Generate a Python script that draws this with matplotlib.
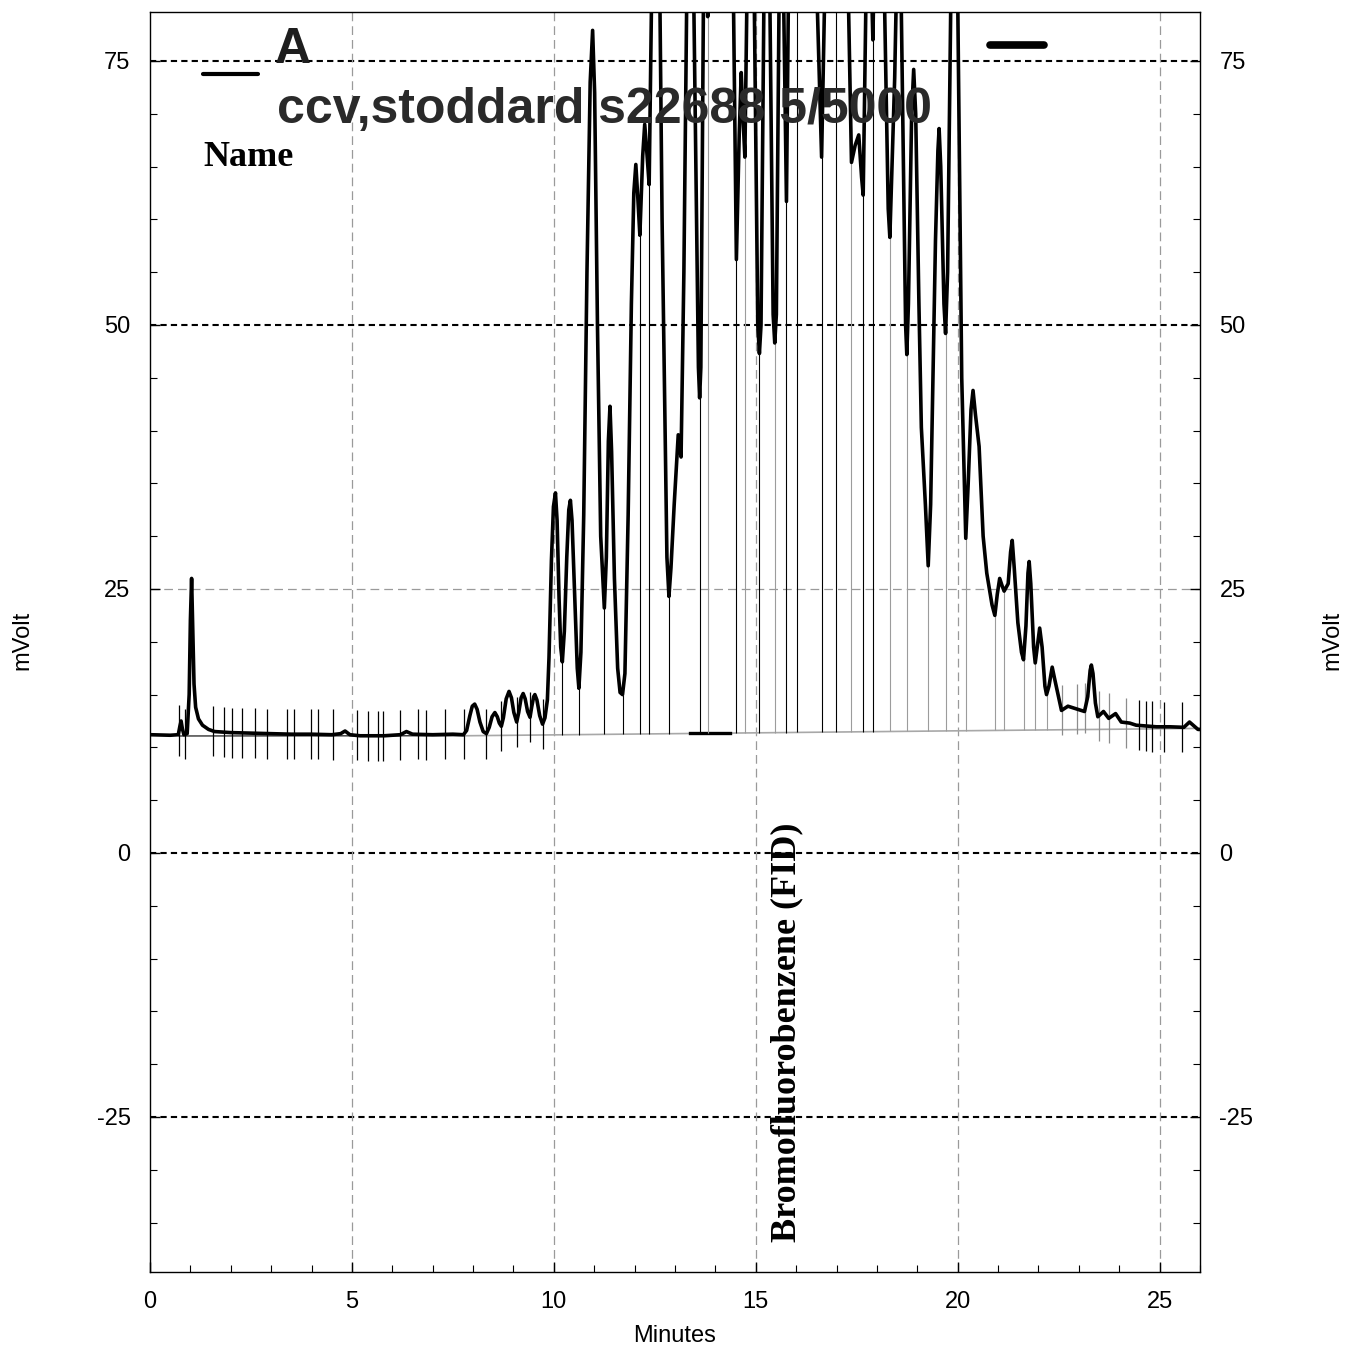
import numpy as np
import matplotlib
matplotlib.use("Agg")
import matplotlib.pyplot as plt

plt.rcParams["axes.unicode_minus"] = False

# ---- chromatogram trace (minutes, mV) ----
trace_time = [
    0.00, 0.50, 0.70, 0.74, 0.77, 0.80, 0.84, 0.92, 0.97, 1.00, 1.03, 1.06, 1.09, 1.13,
    1.20, 1.30, 1.45, 1.60, 2.00, 2.50, 3.00, 3.50, 4.00, 4.50, 4.72, 4.83, 4.95, 5.20,
    5.80, 6.20, 6.35, 6.50, 7.00, 7.50, 7.76, 7.84, 7.92, 7.98, 8.04, 8.10, 8.17, 8.25,
    8.33, 8.40, 8.47, 8.54, 8.60, 8.65, 8.70, 8.75, 8.82, 8.89, 8.95, 9.01, 9.08, 9.13,
    9.19, 9.24, 9.29, 9.35, 9.41, 9.45, 9.50, 9.53, 9.58, 9.65, 9.72, 9.78, 9.84, 9.88,
    9.94, 9.99, 10.04, 10.08, 10.13, 10.17, 10.21, 10.26, 10.32, 10.37, 10.41, 10.45,
    10.52, 10.58, 10.62, 10.67, 10.74, 10.82, 10.90, 10.96, 11.01, 11.08, 11.16, 11.25,
    11.30, 11.35, 11.39, 11.43, 11.50, 11.58, 11.64, 11.70, 11.76, 11.84, 11.92, 11.98,
    12.03, 12.08, 12.13, 12.20, 12.25, 12.30, 12.36, 12.45, 12.55, 12.68, 12.80, 12.85,
    12.90, 12.98, 13.08, 13.15, 13.22, 13.37, 13.50, 13.58, 13.61, 13.64, 13.74, 13.81,
    13.89, 14.05, 14.30, 14.45, 14.52, 14.59, 14.64, 14.68, 14.73, 14.88, 15.05, 15.09,
    15.13, 15.27, 15.43, 15.47, 15.51, 15.62, 15.76, 15.88, 16.01, 16.25, 16.45, 16.63,
    16.80, 16.98, 17.15, 17.37, 17.46, 17.55, 17.62, 17.66, 17.78, 17.90, 18.05, 18.28,
    18.32, 18.38, 18.44, 18.55, 18.71, 18.74, 18.78, 18.86, 18.91, 18.96, 19.04, 19.10,
    19.20, 19.27, 19.33, 19.45, 19.51, 19.54, 19.58, 19.66, 19.70, 19.75, 19.92, 20.10,
    20.20, 20.26, 20.33, 20.38, 20.44, 20.53, 20.63, 20.72, 20.85, 20.92, 20.98, 21.04,
    21.10, 21.15, 21.25, 21.31, 21.35, 21.40, 21.49, 21.58, 21.63, 21.69, 21.74, 21.77,
    21.81, 21.88, 21.92, 21.98, 22.03, 22.09, 22.16, 22.20, 22.26, 22.34, 22.40, 22.57,
    22.73, 23.06, 23.14, 23.22, 23.28, 23.31, 23.35, 23.41, 23.47, 23.61, 23.74, 23.91,
    24.05, 24.26, 24.42, 24.92, 25.25, 25.60, 25.74, 25.95, 26.00,
]
trace_mv = [
    11.2, 11.15, 11.2, 12.0, 12.5, 11.8, 11.2, 11.3, 15.0, 22.0, 26.0, 21.0, 16.0, 13.8,
    12.7, 12.1, 11.7, 11.5, 11.4, 11.35, 11.3, 11.25, 11.25, 11.2, 11.3, 11.55, 11.2, 11.1,
    11.1, 11.2, 11.5, 11.25, 11.2, 11.25, 11.2, 11.6, 13.0, 13.9, 14.1, 13.6, 12.4, 11.5,
    11.3, 11.9, 12.9, 13.3, 12.9, 12.3, 12.0, 12.8, 14.6, 15.3, 14.7, 13.3, 12.4, 13.3,
    14.7, 15.1, 14.6, 13.4, 12.85, 13.8, 14.8, 15.0, 14.5, 13.0, 12.2, 12.8, 14.5, 18.5,
    27.7, 32.8, 34.1, 31.5, 24.0, 19.5, 18.1, 21.0, 28.0, 32.5, 33.4, 31.5,
    24.0, 17.5, 15.6, 19.0, 32.0, 55.0, 73.0, 77.9, 72.0, 50.0, 30.0, 23.2,
    28.0, 39.0, 42.3, 38.0, 26.0, 17.5, 15.2, 15.0, 17.0, 32.0, 52.0, 62.5,
    65.2, 62.0, 58.5, 66.0, 69.0, 66.5, 63.3, 90.0, 110.0, 60.0, 28.0, 24.3,
    27.0, 33.0, 39.6, 37.5, 55.0, 110.0, 70.0, 46.0, 43.1, 46.0, 100.0, 79.2,
    95.0, 120.0, 110.0, 80.0, 56.2, 68.0, 73.9, 70.0, 65.9, 110.0, 50.0, 47.3,
    50.0, 110.0, 51.0, 48.3, 51.0, 100.0, 61.7, 110.0, 85.0, 120.0, 90.0, 65.9,
    100.0, 85.0, 110.0, 65.4, 67.0, 68.0, 64.0, 62.3, 95.0, 77.0, 110.0, 61.0,
    58.3, 66.0, 73.4, 95.0, 50.0, 47.2, 52.0, 70.0, 74.2, 70.0, 52.0, 40.3,
    33.0, 27.2, 33.0, 58.0, 66.5, 68.6, 65.0, 52.0, 49.2, 55.0, 110.0, 45.0,
    29.8, 35.0, 42.0, 43.8, 41.5, 38.5, 30.0, 26.5, 23.5, 22.5, 24.5, 26.0,
    25.3, 24.8, 25.5, 28.5, 29.6, 27.0, 21.8, 19.0, 18.3, 21.5, 26.5, 27.6,
    25.5, 19.5, 18.0, 19.8, 21.3, 19.5, 15.8, 15.0, 15.8, 17.6, 16.5, 13.5,
    13.9, 13.5, 13.4, 14.8, 17.3, 17.8, 17.0, 14.2, 12.9, 13.4, 12.75, 13.2,
    12.4, 12.3, 12.1, 11.95, 11.95, 11.9, 12.4, 11.7, 11.7,
]

# ---- integration baseline ----
baseline_black_time = [0.72, 7.78]
baseline_black_mv = [11.08, 11.10]
baseline_gray_time = [7.78, 26.0]
baseline_gray_mv = [11.10, 11.80]
surrogate_bar_time = [13.37, 14.36]
surrogate_bar_mv = [11.36, 11.36]

# ---- peak event marks ----
drop_time_black = [10.21, 10.62, 11.25, 11.70, 12.13, 12.36, 12.85, 13.61, 14.52, 15.09,
                   15.76, 16.01, 16.63, 16.98, 17.66, 17.90]
drop_time_gray = [13.81, 14.73, 15.47, 17.37, 18.32, 18.74, 19.27, 19.70, 20.20, 20.92,
                  21.15, 21.63, 21.92, 22.20]
tick_time_black = [0.72, 0.87, 1.57, 1.83, 2.04, 2.29, 2.61, 2.90, 3.40, 3.57, 3.99, 4.17,
                   4.54, 5.12, 5.40, 5.65, 5.77, 6.20, 6.64, 6.84, 7.31, 7.78, 8.33, 8.70,
                   9.08, 9.41, 9.72, 24.49, 24.67, 24.82, 25.11, 25.55]
tick_time_gray = [22.58, 22.96, 23.16, 23.49, 23.75, 24.16]
tick_half = 2.37

# ---- axes settings ----
x_major = [0, 5, 10, 15, 20, 25]
y_major = [-25, 0, 25, 50, 75]
black_grid_y = [75, 50, 0, -25]
gray_grid_y = [25]
gray_grid_x = [5, 10, 15, 20, 25]
x_lim = (0, 26)
y_lim = (-39.68, 79.64)

W, H = 1355, 1353
fig = plt.figure(figsize=(W / 100, H / 100), dpi=100)
ax = fig.add_axes([150 / W, 1 - 1272 / H, 1050 / W, 1260 / H])
ax.set_xlim(*x_lim)
ax.set_ylim(*y_lim)

sans = ["Liberation Sans", "DejaVu Sans"]
serif = ["Liberation Serif", "DejaVu Serif"]


def px(x, y):
    return x / W, 1 - y / H


# grid lines
for gy in black_grid_y:
    ax.axhline(gy, color="black", lw=1.5, dashes=(3, 2), zorder=1)
for gy in gray_grid_y:
    ax.axhline(gy, color="#9a9a9a", lw=0.9, dashes=(7, 4), zorder=1)
for gx in gray_grid_x:
    ax.axvline(gx, color="#9a9a9a", lw=0.9, dashes=(7, 4), zorder=1)

# title texts (behind the trace)
fig.text(*px(293, 63), "A", fontsize=36, fontweight="bold", family=sans,
         ha="center", va="baseline", color="#1e1e1e", zorder=2)
fig.text(*px(277, 123), "ccv,stoddard s22688 5/5000", fontsize=36, fontweight="bold",
         family=sans, ha="left", va="baseline", color="#2a2a2a", zorder=2)
fig.text(*px(203, 166), "Name", fontsize=26, fontweight="bold", family=serif,
         ha="left", va="baseline", color="black", zorder=2)
fig.text(*px(795, 1242), "Bromofluorobenzene (FID)", fontsize=26, fontweight="bold",
         family=serif, rotation=90, rotation_mode="anchor", ha="left", va="baseline",
         color="black", zorder=2)

# short legend dashes
fig.add_artist(plt.Line2D([203 / W, 258 / W], [1 - 74 / H] * 2, color="black", lw=3,
                          solid_capstyle="round"))
fig.add_artist(plt.Line2D([990 / W, 1044 / W], [1 - 45 / H] * 2, color="black", lw=5.5,
                          solid_capstyle="round"))

t_arr = np.array(trace_time)
v_arr = np.array(trace_mv)
bl_t = np.array(baseline_black_time[:1] + baseline_gray_time)
bl_v = np.array(baseline_black_mv[:1] + baseline_gray_mv)

# baselines
ax.plot(baseline_black_time, baseline_black_mv, color="black", lw=0.8, zorder=3)
ax.plot(baseline_gray_time, baseline_gray_mv, color="#a8a8a8", lw=1.2, zorder=3)
ax.plot(surrogate_bar_time, surrogate_bar_mv, color="black", lw=2.4, zorder=3)

# drop lines from baseline to valley
for times, col, lw in [(drop_time_black, "black", 0.8), (drop_time_gray, "#9c9c9c", 0.8)]:
    tt = np.array(times)
    ax.vlines(tt, np.interp(tt, bl_t, bl_v), np.interp(tt, t_arr, v_arr),
              colors=col, lw=lw, zorder=3)

# peak start/stop ticks across the trace
for times, col in [(tick_time_black, "black"), (tick_time_gray, "#8c8c8c")]:
    tt = np.array(times)
    cv = np.interp(tt, t_arr, v_arr)
    ax.vlines(tt, cv - tick_half, cv + tick_half, colors=col, lw=0.9, zorder=3)

# detector signal
ax.plot(trace_time, trace_mv, color="black", lw=2.6, zorder=4,
        solid_joinstyle="round", solid_capstyle="round")

# ticks and labels
ax.set_xticks(x_major)
ax.set_xticks(np.arange(0, 27, 1), minor=True)
ax.set_yticks(y_major)
ax.set_yticks(np.arange(-35, 80, 5), minor=True)
ax.tick_params(axis="both", which="both", direction="in", labelsize=17,
               right=True, labelright=True, top=False)
ax.tick_params(axis="both", which="major", length=7, width=1)
ax.tick_params(axis="both", which="minor", length=5, width=0.8)
ax.tick_params(axis="y", which="major", pad=14)
ax.tick_params(axis="x", which="major", pad=14)
for lab in ax.get_xticklabels() + ax.get_yticklabels():
    lab.set_family(sans)
for sp in ax.spines.values():
    sp.set_linewidth(1.0)

fig.text(*px(675, 1336), "Minutes", fontsize=17, family=sans, ha="center", va="center")
fig.text(*px(22, 640), "mVolt", fontsize=17, family=sans, ha="center", va="center",
         rotation=90)
fig.text(*px(1332, 640), "mVolt", fontsize=17, family=sans, ha="center", va="center",
         rotation=90)

fig.savefig("out.png", dpi=100)
